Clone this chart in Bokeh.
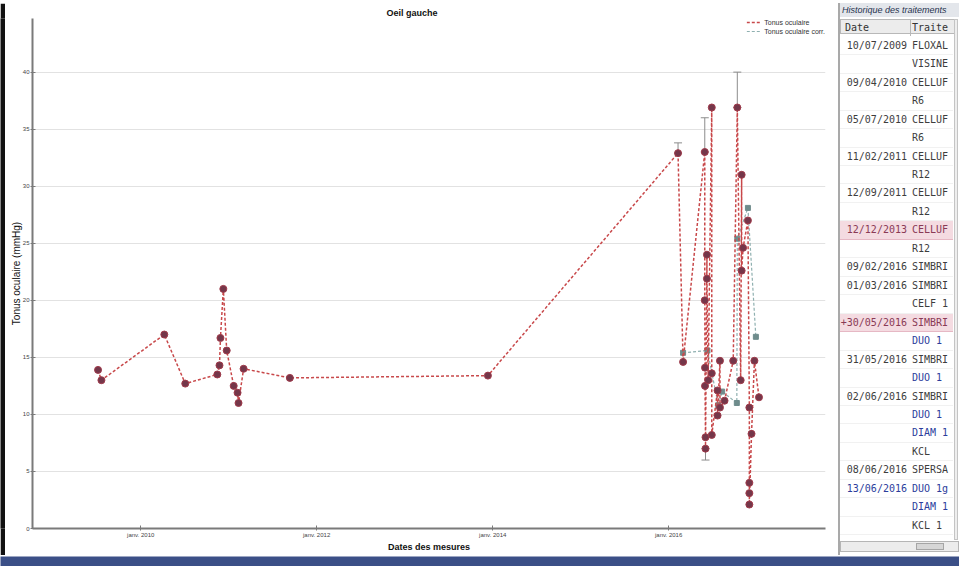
import pandas as pd
from bokeh.plotting import figure
from bokeh.models import (ColumnDataSource, Legend, LegendItem, FixedTicker,
                          Whisker, TeeHead, Range1d, Div)
from bokeh.layouts import row, column
from bokeh.embed import file_html
from bokeh.resources import INLINE

# ---------------- data ----------------
chart_title = "Oeil gauche"
x_label = "Dates des mesures"
y_label = "Tonus oculaire (mmHg)"
series_names = ["Tonus oculaire", "Tonus oculaire corr."]

tonus_dates = [
    "2009-07-08", "2009-07-22", "2010-04-09", "2010-07-05", "2010-11-15",
    "2010-11-24", "2010-11-28", "2010-12-10", "2010-12-24", "2011-01-22",
    "2011-02-07", "2011-02-11", "2011-03-04", "2011-09-12", "2013-12-12",
    "2016-02-09", "2016-03-01", "2016-05-30", "2016-05-30", "2016-05-31",
    "2016-05-31", "2016-06-02", "2016-06-02", "2016-06-08", "2016-06-08",
    "2016-06-13", "2016-06-28", "2016-06-28", "2016-06-28", "2016-07-22",
    "2016-07-22", "2016-08-01", "2016-08-01", "2016-08-20", "2016-09-25",
    "2016-10-12", "2016-10-26", "2016-10-30", "2016-10-30", "2016-11-05",
    "2016-11-25", "2016-12-01", "2016-12-01", "2016-12-01", "2016-12-01",
    "2016-12-10", "2016-12-22", "2017-01-10",
]
tonus_values = [
    13.9, 13.0, 17.0, 12.7, 13.5,
    14.3, 16.7, 21.0, 15.6, 12.5,
    11.9, 11.0, 14.0, 13.2, 13.4,
    32.9, 14.6, 33.0, 20.0, 14.1,
    12.5, 8.0, 7.0, 24.0, 21.9,
    13.0, 36.9, 13.6, 8.2, 12.1,
    9.9, 14.7, 10.6, 11.2, 14.7,
    36.9, 13.0, 31.0, 22.6, 24.6,
    27.0, 10.6, 4.0, 3.1, 2.1,
    8.3, 14.7, 11.5,
]

corr_dates = ["2016-03-01", "2016-06-10", "2016-07-25", "2016-08-10",
              "2016-10-10", "2016-10-12", "2016-11-25", "2016-12-28"]
corr_values = [15.4, 15.6, 10.8, 12.0, 11.0, 25.4, 28.1, 16.8]

err_dates = ["2016-02-09", "2016-05-30", "2016-06-02", "2016-10-12"]
err_low = [32.9, 33.0, 6.0, 36.9]
err_high = [33.8, 36.0, 7.0, 40.0]

x_tick_dates = ["2010-01-01", "2012-01-01", "2014-01-01", "2016-01-01"]
x_tick_labels = ["janv. 2010", "janv. 2012", "janv. 2014", "janv. 2016"]
y_ticks = [0, 5, 10, 15, 20, 25, 30, 35, 40]
x_start, x_end = "2008-10-09", "2017-10-13"
y_start, y_end = 0, 44.7

table_title = "Historique des traitements"
table_headers = ["Date", "Traite"]
table_dates = [
    "10/07/2009", "", "09/04/2010", "", "05/07/2010", "", "11/02/2011", "",
    "12/09/2011", "", "12/12/2013", "", "09/02/2016", "01/03/2016", "",
    "+30/05/2016", "", "31/05/2016", "", "02/06/2016", "", "", "",
    "08/06/2016", "13/06/2016", "", "",
]
table_treatments = [
    "FLOXAL", "VISINE", "CELLUF", "R6", "CELLUF", "R6", "CELLUF", "R12",
    "CELLUF", "R12", "CELLUF", "R12", "SIMBRI", "SIMBRI", "CELF 1",
    "SIMBRI", "DUO 1", "SIMBRI", "DUO 1", "SIMBRI", "DUO 1", "DIAM 1", "KCL",
    "SPERSA", "DUO 1g", "DIAM 1", "KCL 1",
]
# n = normal, h = highlighted row, b = blue treatment, bb = blue date+treatment
table_kinds = [
    "n", "n", "n", "n", "n", "n", "n", "n",
    "n", "n", "h", "n", "n", "n", "n",
    "h", "b", "n", "b", "n", "b", "b", "n",
    "n", "bb", "b", "n",
]

# ---------------- chart ----------------
RED = "#c8484a"
DOT = "#74374a"
GREY = "#8c8c8c"


def ms(d):
    return int(pd.Timestamp(d).value // 10**6)


src1 = ColumnDataSource(dict(x=pd.to_datetime(tonus_dates), y=tonus_values))
src2 = ColumnDataSource(dict(x=pd.to_datetime(corr_dates), y=corr_values))
src_err = ColumnDataSource(dict(x=pd.to_datetime(err_dates), lo=err_low, hi=err_high))

p = figure(width=833, height=552, x_axis_type="datetime",
           x_range=Range1d(pd.Timestamp(x_start), pd.Timestamp(x_end)),
           y_range=Range1d(y_start, y_end),
           toolbar_location=None, output_backend="svg",
           min_border_left=27, min_border_right=13,
           min_border_top=15, min_border_bottom=27,
           background_fill_color="white", border_fill_color="white")
p.outline_line_color = None

p.title.text = chart_title
p.title.align = "left"
p.title.offset = 354
p.title.text_font = "Liberation Sans"
p.title.text_font_size = "9px"
p.title.text_font_style = "bold"
p.title.text_color = "#111111"
p.title.standoff = 1

for ax in (p.xaxis[0], p.yaxis[0]):
    ax.axis_line_color = "#7a7a7a"
    ax.axis_line_width = 2
    ax.major_tick_line_color = "#7a7a7a"
    ax.major_tick_in = 3
    ax.major_tick_out = 2
    ax.minor_tick_line_color = None
    ax.major_label_text_font = "Liberation Sans"
    ax.major_label_text_font_size = "6px"
    ax.major_label_text_color = "#444444"
    ax.major_label_standoff = 1
    ax.axis_label_text_font = "Liberation Sans"
    ax.axis_label_text_color = "#111111"

p.xaxis[0].ticker = FixedTicker(ticks=[ms(d) for d in x_tick_dates])
p.xaxis[0].major_label_overrides = {ms(d): lab for d, lab in zip(x_tick_dates, x_tick_labels)}
p.xaxis[0].axis_label = x_label
p.xaxis[0].axis_label_text_font_size = "9px"
p.xaxis[0].axis_label_text_font_style = "bold"
p.xaxis[0].axis_label_standoff = 1

p.yaxis[0].ticker = FixedTicker(ticks=y_ticks)
p.yaxis[0].axis_label = y_label
p.yaxis[0].axis_label_text_font_size = "10px"
p.yaxis[0].axis_label_text_font_style = "normal"
p.yaxis[0].axis_label_standoff = -2

p.xgrid.visible = False
p.ygrid[0].ticker = FixedTicker(ticks=y_ticks)
p.ygrid.grid_line_color = "#e2e2e2"
p.ygrid.grid_line_width = 1

whisk = Whisker(source=src_err, base="x", lower="lo", upper="hi",
                line_color=GREY, line_width=1, level="underlay",
                upper_head=TeeHead(size=8, line_color=GREY, line_width=1),
                lower_head=TeeHead(size=8, line_color=GREY, line_width=1))
p.add_layout(whisk)

l2 = p.line("x", "y", source=src2, line_color="#8fb0b0", line_width=1.2,
            line_dash="3 2")
m2 = p.scatter("x", "y", source=src2, marker="square", size=5,
               fill_color="#6f8c8c", line_color="#6f8c8c")
l1 = p.line("x", "y", source=src1, line_color=RED, line_width=1.5,
            line_dash="3 2")
m1 = p.scatter("x", "y", source=src1, marker="circle", size=7,
               fill_color=DOT, line_color="#a03a4a", line_width=1)

legend = Legend(items=[LegendItem(label=series_names[0], renderers=[l1]),
                       LegendItem(label=series_names[1], renderers=[l2])],
                location="top_right", orientation="vertical",
                label_text_font="Liberation Sans", label_text_font_size="7px",
                label_text_color="#333333", glyph_width=15, glyph_height=8,
                label_height=8, spacing=1, padding=1, margin=0,
                label_standoff=3, border_line_color=None,
                background_fill_alpha=0)
p.add_layout(legend)

# ---------------- treatment history panel (HTML) ----------------
first_row, row_h = 43.0, 18.46


def date_color(k):
    return {"h": "#8a3a55", "bb": "#2c3d9c"}.get(k, "#3d3d3d")


def treat_color(k):
    return {"h": "#8a3a55", "b": "#2c3d9c", "bb": "#2c3d9c"}.get(k, "#3d3d3d")


parts = [
    '<div style="position:relative;width:121px;height:552px;overflow:hidden;'
    'background:#ffffff;font-family:\'DejaVu Sans Mono\',monospace;font-size:10px;">',
    '<div style="position:absolute;left:0;top:0;width:2px;height:552px;background:#a9a9a9;"></div>',
    '<div style="position:absolute;left:2px;top:0;width:119px;height:14px;background:#e3e6eb;"></div>',
    '<div style="position:absolute;left:4px;top:0;height:14px;line-height:14px;white-space:nowrap;'
    'font-family:\'Liberation Sans\',sans-serif;font-size:9px;font-style:italic;color:#27324f;">'
    + table_title + '</div>',
    '<div style="position:absolute;left:2px;top:16px;width:117px;height:15px;background:#ececec;'
    'border:1px solid #b8b8b8;"></div>',
    '<div style="position:absolute;left:72px;top:16px;width:1px;height:17px;background:#b8b8b8;"></div>',
    '<div style="position:absolute;left:7px;top:16px;height:17px;line-height:17px;color:#333333;">'
    + table_headers[0] + '</div>',
    '<div style="position:absolute;left:74px;top:16px;height:17px;line-height:17px;color:#333333;">'
    + table_headers[1] + '</div>',
]
for i, (d, tr, k) in enumerate(zip(table_dates, table_treatments, table_kinds)):
    top = first_row + i * row_h - row_h / 2
    bg = "#f4dbe1" if k == "h" else "#ffffff"
    bd = "#e6b8c4" if k == "h" else "#f1f1f1"
    parts.append(
        f'<div style="position:absolute;left:2px;top:{top:.2f}px;width:113px;height:{row_h:.2f}px;'
        f'background:{bg};border-bottom:1px solid {bd};box-sizing:border-box;"></div>')
    parts.append(
        f'<div style="position:absolute;left:0px;top:{top:.2f}px;width:69px;height:{row_h:.2f}px;'
        f'line-height:{row_h:.2f}px;text-align:right;white-space:nowrap;color:{date_color(k)};">{d}</div>')
    parts.append(
        f'<div style="position:absolute;left:74px;top:{top:.2f}px;height:{row_h:.2f}px;'
        f'line-height:{row_h:.2f}px;white-space:nowrap;color:{treat_color(k)};">{tr}</div>')
parts += [
    '<div style="position:absolute;left:116px;top:16px;width:4px;height:521px;background:#eeeeee;'
    'border:1px solid #c4c4c4;box-sizing:border-box;"></div>',
    '<div style="position:absolute;left:2px;top:538px;width:119px;height:11px;background:#ececec;'
    'border:1px solid #b5b5b5;box-sizing:border-box;"></div>',
    '<div style="position:absolute;left:78px;top:540px;width:28px;height:7px;background:#d6d6d6;'
    'border:1px solid #a5a5a5;box-sizing:border-box;"></div>',
    '</div>',
]
table_div = Div(text="".join(parts), width=121, height=552, margin=0)


def band(w, h, color):
    b = figure(width=w, height=h, toolbar_location=None, output_backend="svg",
               title=None, min_border=0, x_axis_location=None,
               y_axis_location=None,
               background_fill_color=color, border_fill_color=color)
    b.grid.visible = False
    b.outline_line_color = None
    return b


top_bar = band(959, 3, "#34497f")
left_bar = band(5, 552, "#111111")
bottom_bar = band(959, 11, "#3b4f87")

layout = column(top_bar, row(left_bar, p, table_div), bottom_bar)
open("out.html", "w").write(file_html(layout, INLINE))
